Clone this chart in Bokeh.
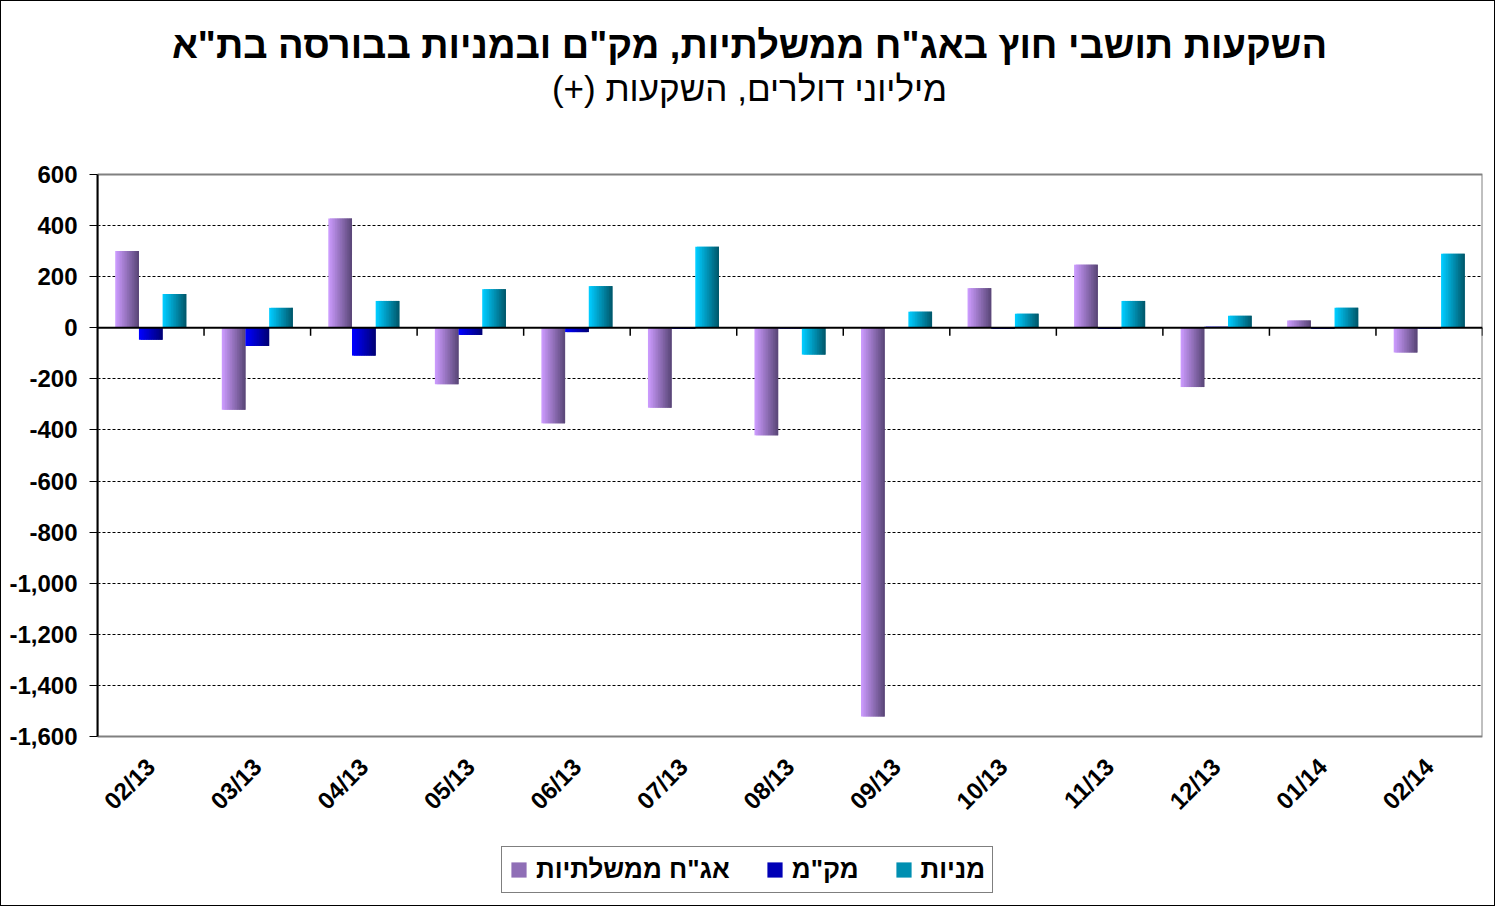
import numpy as np
from bokeh.plotting import figure
from bokeh.models import (ColumnDataSource, Span, Legend, LegendItem, Label,
                          NumeralTickFormatter, FixedTicker, Range1d)
from bokeh.embed import file_html
from bokeh.resources import INLINE

# ---------------- data ----------------
months = ["02/13", "03/13", "04/13", "05/13", "06/13", "07/13", "08/13",
          "09/13", "10/13", "11/13", "12/13", "01/14", "02/14"]
govt_bonds = [301, -321, 428, -221, -374, -313, -421, -1522, 155, 247, -232, 28, -97]
makam = [-47, -71, -109, -28, -17, -4, -3, 0, -4, -4, 4, -4, -3]
stocks = [132, 78, 105, 151, 163, 317, -105, 63, 55, 105, 47, 78, 290]
series_names = ['אג"ח ממשלתיות', 'מק"מ', 'מניות']
y_ticks = list(range(-1600, 601, 200))

title_text = 'השקעות תושבי חוץ באג"ח ממשלתיות, מק"ם ובמניות בבורסה בת"א'
subtitle_text = '(+) מיליוני דולרים, השקעות'

# gradient end colours (left -> right) per series
grad = [((202, 154, 252), (92, 72, 122)),
        ((0, 0, 255), (0, 0, 120)),
        ((0, 204, 255), (0, 90, 110))]

FONT = "Liberation Sans"
W, H = 1495, 906
ML, MR = 96, 14                    # frame spans the full height; y-axis panel on the left
PLOT_TOP, PLOT_BOTTOM = 173, 735   # pixel rows of the value area inside the figure
YMIN, YMAX = y_ticks[0], y_ticks[-1]
upp = (YMAX - YMIN) / (PLOT_BOTTOM - PLOT_TOP)   # data units per pixel
y_lo = YMIN - (H - PLOT_BOTTOM) * upp
y_hi = YMAX + PLOT_TOP * upp

p = figure(width=W, height=H, output_backend="svg", toolbar_location=None,
           x_range=Range1d(0, len(months)), y_range=Range1d(y_lo, y_hi),
           min_border_left=ML, min_border_right=MR, min_border_top=0,
           min_border_bottom=0)
p.styles = {"border": "1px solid black"}
p.background_fill_color = "white"
p.border_fill_color = "white"
p.outline_line_color = None

# ---- dashed grid ----
p.xgrid.visible = False
p.ygrid.ticker = FixedTicker(ticks=y_ticks[1:-1])
p.ygrid.grid_line_color = "black"
p.ygrid.grid_line_dash = "3 2"
p.ygrid.grid_line_width = 1

# ---- plot-area border (gray) ----
p.quad(left=[0], right=[len(months)], bottom=[YMIN], top=[YMAX],
       fill_color=None, line_color="#808080", line_width=2)

# ---- bars as gradient strips ----
bw = 1 / 4.5
N = 14
d = bw / N
renderers = []
for s, vals in enumerate([govt_bonds, makam, stocks]):
    c0, c1 = grad[s]
    xs, ws, tops, cols = [], [], [], []
    for i, v in enumerate(vals):
        left = i + 0.5 + (s - 1.5) * bw
        for k in range(N):
            t = k / (N - 1)
            col = "#%02x%02x%02x" % tuple(int(round(a + (b - a) * t)) for a, b in zip(c0, c1))
            x0 = left + k * d
            x1 = left + min(k + 2, N) * d
            xs.append((x0 + x1) / 2)
            ws.append(x1 - x0)
            tops.append(v)
            cols.append(col)
    src = ColumnDataSource(dict(x=xs, w=ws, top=tops, color=cols))
    r = p.vbar(x="x", top="top", bottom=0, width="w", source=src,
               fill_color="color", line_color=None)
    renderers.append(r)

# ---- y axis ----
p.yaxis.bounds = (YMIN, YMAX)
p.yaxis.ticker = FixedTicker(ticks=y_ticks)
p.yaxis.formatter = NumeralTickFormatter(format="0,0")
p.yaxis.axis_line_color = "black"
p.yaxis.axis_line_width = 2
p.yaxis.major_tick_line_color = "black"
p.yaxis.major_tick_out = 8
p.yaxis.major_tick_in = 0
p.yaxis.minor_tick_line_color = None
p.yaxis.major_label_text_font = FONT
p.yaxis.major_label_text_font_style = "bold"
p.yaxis.major_label_text_font_size = "24px"
p.yaxis.major_label_text_color = "black"
p.yaxis.major_label_standoff = 12

# ---- x axis (labels under the value area) ----
centers = [i + 0.5 for i in range(len(months))]
p.xaxis.fixed_location = YMIN
p.xaxis.ticker = FixedTicker(ticks=centers)
p.xaxis.major_label_overrides = {c: m for c, m in zip(centers, months)}
p.xaxis.axis_line_color = None
p.xaxis.major_tick_line_color = None
p.xaxis.minor_tick_line_color = None
p.xaxis.major_label_orientation = np.pi / 4
p.xaxis.major_label_text_font = FONT
p.xaxis.major_label_text_font_style = "bold"
p.xaxis.major_label_text_font_size = "24px"
p.xaxis.major_label_text_color = "black"
p.xaxis.major_label_standoff = 20

# zero line with category-boundary ticks
bounds = list(range(1, len(months) + 1))
p.segment(x0=bounds, y0=[0] * len(bounds), x1=bounds, y1=[-8 * upp] * len(bounds),
          line_color="black", line_width=1.5)
p.add_layout(Span(location=0, dimension="width", line_color="black", line_width=2))

# ---- titles ----
cx = 748 - ML
p.add_layout(Label(x=cx, y=H - 43, x_units="screen", y_units="screen",
                   text=title_text, text_align="center", text_baseline="middle",
                   text_font=FONT, text_font_style="bold", text_font_size="38px",
                   text_color="black"))
p.add_layout(Label(x=cx, y=H - 87, x_units="screen", y_units="screen",
                   text=subtitle_text, text_align="center", text_baseline="middle",
                   text_font=FONT, text_font_size="35px", text_color="black"))

# ---- legend ----
items = [LegendItem(label=n, renderers=[r], index=N // 2) for n, r in zip(series_names, renderers)]
legend = Legend(items=items, orientation="horizontal", location=(500 - ML, 14),
                label_text_font=FONT, label_text_font_style="bold",
                label_text_font_size="26px", label_text_color="black",
                glyph_width=19, glyph_height=19, label_standoff=8, spacing=35,
                padding=7, margin=0, border_line_color="black", border_line_width=1,
                background_fill_color="white", background_fill_alpha=1)
p.add_layout(legend, "center")

open("out.html", "w").write(file_html(p, INLINE))
